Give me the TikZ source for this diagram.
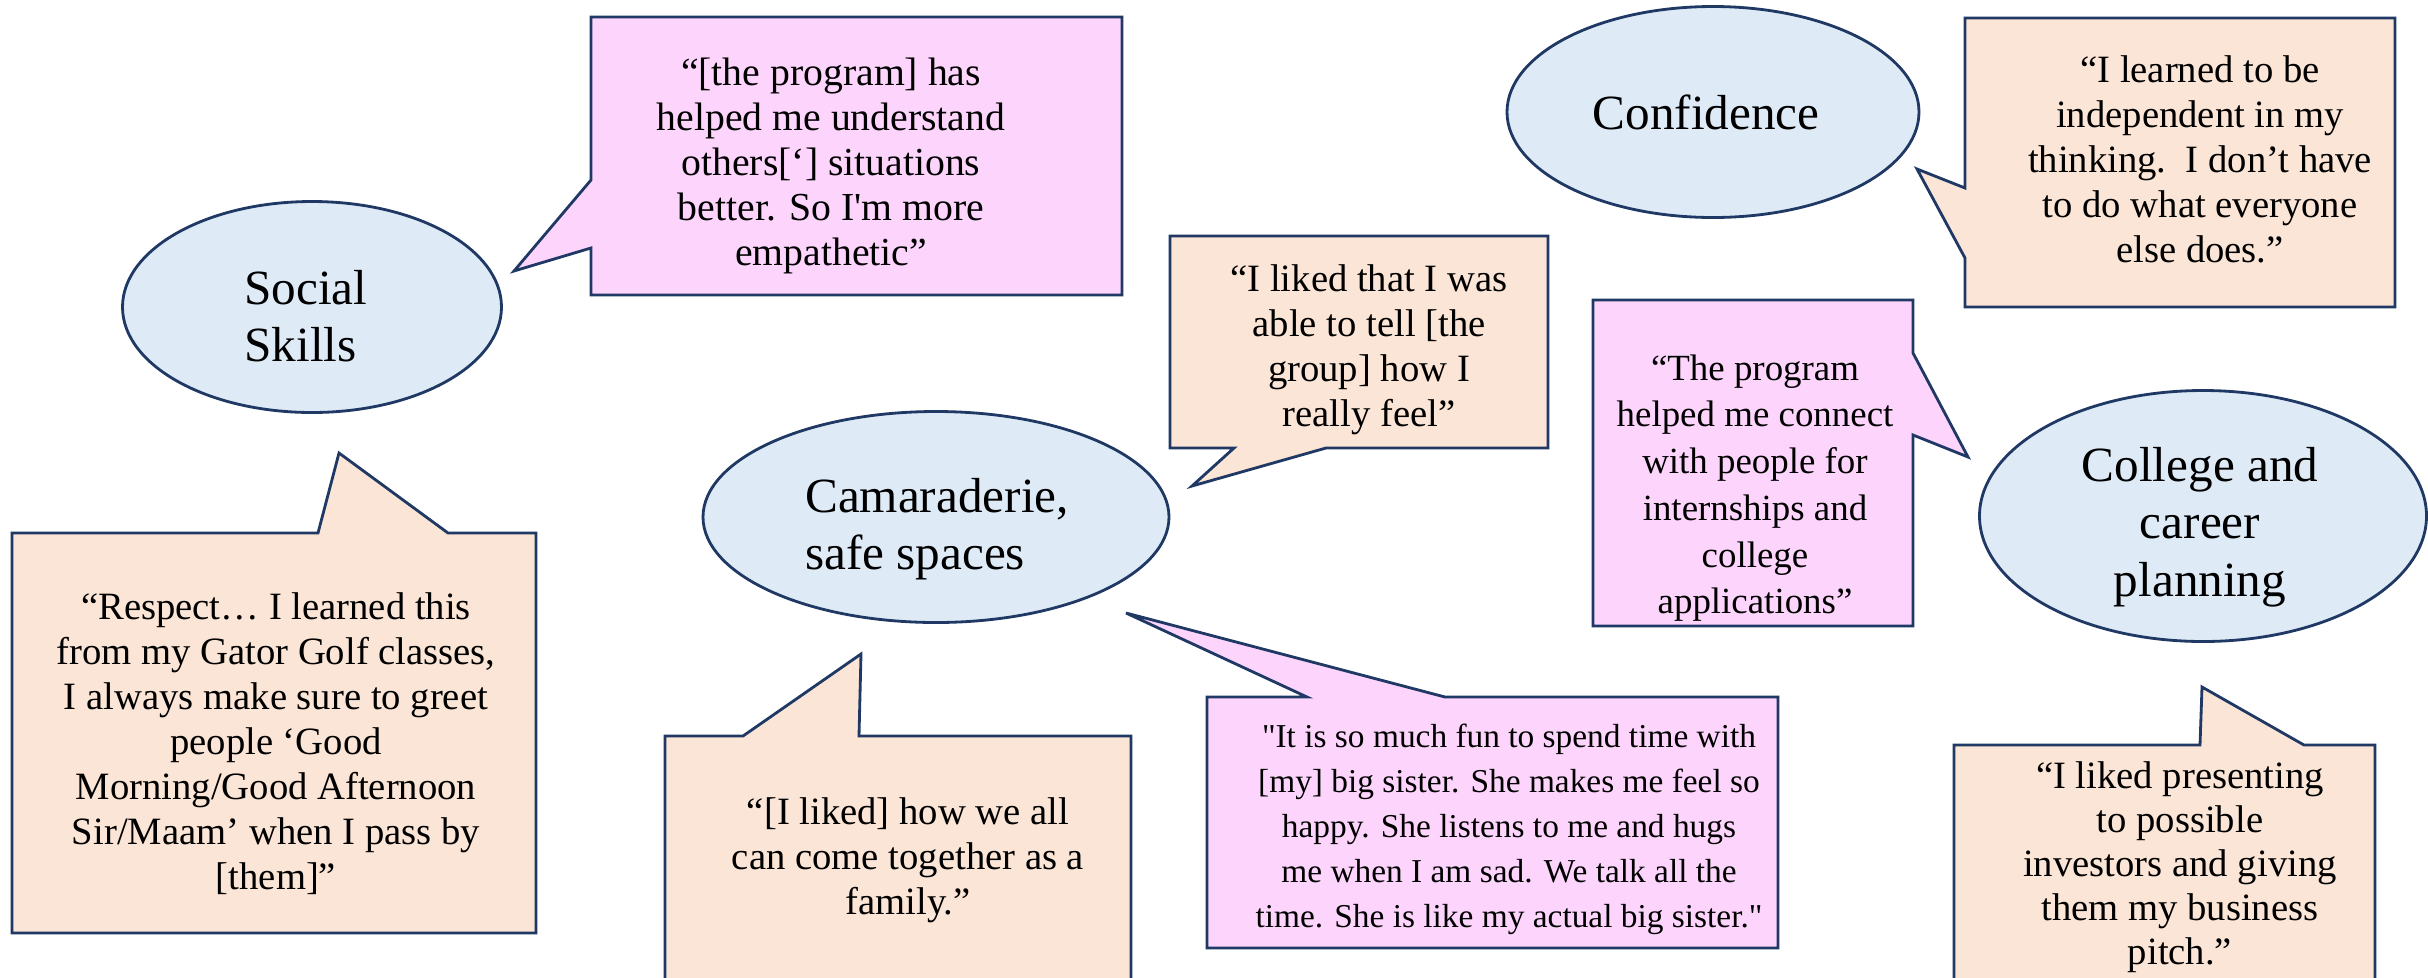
\documentclass[tikz,border=0pt]{standalone}
\usepackage{fontspec}
\setmainfont{Liberation Serif}
\usetikzlibrary{shapes.geometric}
\definecolor{navy}{HTML}{1F3864}
\definecolor{themeblue}{HTML}{DEEBF7}
\definecolor{peach}{HTML}{FBE5D6}
\definecolor{pinky}{HTML}{FDD5FC}

\begin{document}
\begin{tikzpicture}[x=.1mm,y=-.1mm,
    theme/.style={ellipse,draw=navy,fill=themeblue,line width=.8pt,inner sep=0pt},
    themetext/.style={inner sep=0pt,font=\fontsize{14}{16.3}\selectfont},
    peachbox/.style={draw=navy,fill=peach,line width=.8pt},
    pinkbox/.style={draw=navy,fill=pinky,line width=.8pt},
    quotetext/.style={align=center,inner sep=0pt,font=\fontsize{11}{12.8}\selectfont}]
			\useasboundingbox (0,0) rectangle (2428,977);
			\clip (0,0) rectangle (2428,977);

			% Temas
			\node[theme,minimum width=37.9mm,minimum height=21.1mm] (social) at (312,307) {};
			\node[themetext,align=left] (socialtext) at (306,316) {Social\\Skills};
			\node[theme,minimum width=46.6mm,minimum height=21.1mm] (camaraderie) at (936,517) {};
			\node[themetext,align=left] (camaraderietext) at (937,529) {Camaraderie,\\safe spaces};
			\node[theme,minimum width=41.2mm,minimum height=21.1mm] (confidence) at (1713,112) {};
			\node[themetext] (confidencetext) at (1706,112) {Confidence};
			\node[theme,minimum width=44.7mm,minimum height=25.1mm] (college) at (2203,516) {};
			\node[themetext,align=center] (collegetext) at (2200,527) {College and\\career\\planning};

			% Citas
			\draw[pinkbox] (591,17) -- (1122,17) -- (1122,295) -- (591,295) -- (591,248) -- (514,271) -- (591,180) -- cycle;
			\node[quotetext,font=\fontsize{11.3}{12.8}\selectfont] (empathy) at (831,166) {“[the program] has\\helped me understand\\others[‘] situations\\better. So I\textquotesingle m more\\empathetic”};

			\draw[peachbox] (12,533) -- (318,533) -- (339,453) -- (448,533) -- (536,533) -- (536,933) -- (12,933) -- cycle;
			\node[quotetext] (respect) at (276,744) {“Respect… I learned this\\from my Gator Golf classes,\\I always make sure to greet\\people ‘Good\\Morning/Good Afternoon\\Sir/Maam’ when I pass by\\{}[them]”};

			\draw[peachbox] (1170,236) -- (1548,236) -- (1548,448) -- (1326,448) -- (1192,486) -- (1234,448) -- (1170,448) -- cycle;
			\node[quotetext] (feel) at (1369,350) {“I liked that I was\\able to tell [the\\group] how I\\really feel”};

			\draw[peachbox] (665,736) -- (743,736) -- (861,654) -- (859,736) -- (1131,736) -- (1131,1000) -- (665,1000) -- cycle;
			\node[quotetext] (family) at (908,860) {“[I liked] how we all\\can come together as a\\family.”};

			\draw[pinkbox] (1207,697) -- (1307,697) -- (1126,613) -- (1445,697) -- (1778,697) -- (1778,948) -- (1207,948) -- cycle;
			\node[quotetext,font=\fontsize{9.5}{12.8}\selectfont] (sister) at (1509,829) {\textquotedbl It is so much fun to spend time with\\{}[my] big sister. She makes me feel so\\happy. She listens to me and hugs\\me when I am sad. We talk all the\\time. She is like my actual big sister.\textquotedbl};

			\draw[peachbox] (1965,18) -- (2395,18) -- (2395,307) -- (1965,307) -- (1965,258) -- (1917,169) -- (1965,188) -- cycle;
			\node[quotetext] (independent) at (2200,159) {“I learned to be\\independent in my\\thinking.\ \ I don’t have\\to do what everyone\\else does.”};

			\draw[pinkbox] (1593,300) -- (1913,300) -- (1913,353) -- (1968,457) -- (1913,435) -- (1913,626) -- (1593,626) -- cycle;
			\node[quotetext,font=\fontsize{10.5}{13.3}\selectfont] (connect) at (1755,488) {“The program\\helped me connect\\with people for\\internships and\\college\\applications”};

			\draw[peachbox] (1954,745) -- (2200,745) -- (2202,687) -- (2304,745) -- (2375,745) -- (2375,1000) -- (1954,1000) -- cycle;
			\node[quotetext,font=\fontsize{11}{12.5}\selectfont] (pitch) at (2180,867) {“I liked presenting\\to possible\\investors and giving\\them my business\\pitch.”};

		    \end{tikzpicture}
\end{document}
